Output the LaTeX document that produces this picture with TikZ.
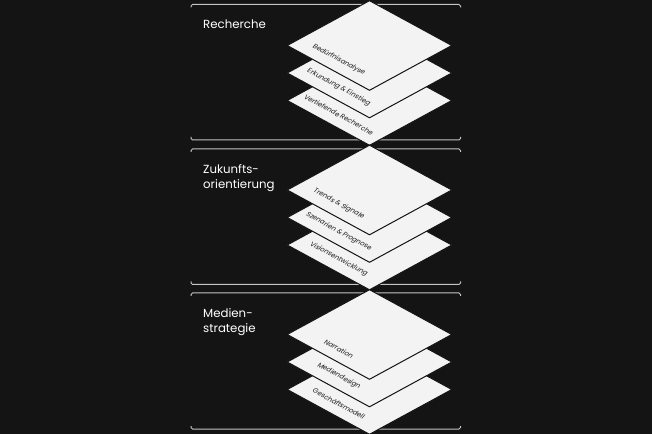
\documentclass[tikz,border=0pt]{standalone}
\usepackage{fontspec}
\setmainfont{Poppins}
\newfontfamily\layerfont{Poppins}[FakeSlant=0.22]
\usetikzlibrary{shapes.geometric}
\definecolor{bg}{HTML}{141414}
\definecolor{paper}{HTML}{F3F3F3}
\definecolor{rule}{HTML}{C4C4C4}
\definecolor{ink}{HTML}{1C1C1C}
\tikzset{
  layer/.style = {diamond, fill=paper, draw=bg, line width=1bp,
    minimum width=165bp, minimum height=90bp, inner sep=0pt},
  layertext/.style = {rotate=-28.61, inner sep=0pt, text=ink,
    font=\layerfont\fontsize{6.8}{7.5}\selectfont},
  heading/.style = {anchor=north west, align=left, inner sep=0pt,
    text=white, font=\fontsize{11.8}{15}\selectfont},
  frame/.style = {draw=rule, line width=1bp, rounded corners=1.5bp}
}
\begin{document}
\begin{tikzpicture}[x=1bp, y=-1bp]
    \fill[bg] (0,0) rectangle (652,434);
    \useasboundingbox (0,0) rectangle (652,434);
    % frames
    \draw[frame] (191,7.5) -- (191,4.5) -- (460.5,4.5) -- (460.5,7.5);
    \draw[frame] (191,137) -- (191,140) -- (460.5,140) -- (460.5,137);
    \draw[frame] (191,152) -- (191,149) -- (460.5,149) -- (460.5,152);
    \draw[frame] (191,281.5) -- (191,284.5) -- (460.5,284.5) -- (460.5,281.5);
    \draw[frame] (191,296) -- (191,293) -- (460.5,293) -- (460.5,296);
    \draw[frame] (191,426) -- (191,429) -- (460.5,429) -- (460.5,426);
    % Recherche
    \node (recherche) [heading] at (203,19.5) {Recherche};
    \node (vert) [layer] at (369.5,100.5) {};
    \node [layertext] at ([shift={(-31bp,-14bp)}]vert.center) {Vertiefende Recherche};
    \node (erk) [layer] at (369.5,73) {};
    \node [layertext] at ([shift={(-31bp,-14bp)}]erk.center) {Erkundung \& Einstieg};
    \node (bed) [layer] at (369.5,45.5) {};
    \node [layertext] at ([shift={(-31bp,-14bp)}]bed.center) {Bedürfnisanalyse};
    % Zukunftsorientierung
    \node (zukunft) [heading] at (203,164) {Zukunfts-\\orientierung};
    \node (vision) [layer] at (369.5,245) {};
    \node [layertext] at ([shift={(-31bp,-14bp)}]vision.center) {Visionsentwicklung};
    \node (szen) [layer] at (369.5,217.5) {};
    \node [layertext] at ([shift={(-31bp,-14bp)}]szen.center) {Szenarien \& Prognose};
    \node (trends) [layer] at (369.5,190) {};
    \node [layertext] at ([shift={(-31bp,-14bp)}]trends.center) {Trends \& Signale};
    % Medienstrategie
    \node (medien) [heading] at (203,308.5) {Medien-\\strategie};
    \node (gesch) [layer] at (369.5,389.5) {};
    \node [layertext] at ([shift={(-31bp,-14bp)}]gesch.center) {Geschäftsmodell};
    \node (design) [layer] at (369.5,362) {};
    \node [layertext] at ([shift={(-31bp,-14bp)}]design.center) {Mediendesign};
    \node (narr) [layer] at (369.5,334.5) {};
    \node [layertext] at ([shift={(-31bp,-14bp)}]narr.center) {Narration};
  \end{tikzpicture}
\end{document}
